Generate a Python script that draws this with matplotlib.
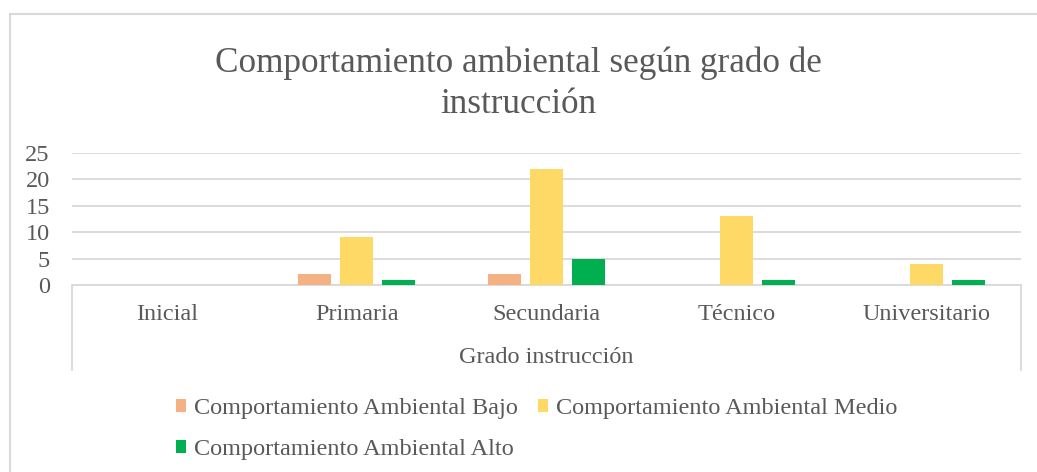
import matplotlib
matplotlib.use("Agg")
import matplotlib.pyplot as plt
import numpy as np

plt.rcParams["font.family"] = ["Liberation Serif", "DejaVu Serif"]

categories = ["Inicial", "Primaria", "Secundaria", "Técnico", "Universitario"]
bajo = [0, 2, 2, 0, 0]
medio = [0, 9, 22, 13, 4]
alto = [0, 1, 5, 1, 1]
series_names = ["Comportamiento Ambiental Bajo",
                "Comportamiento Ambiental Medio",
                "Comportamiento Ambiental Alto"]
colors = ["#F4B183", "#FFD966", "#00B050"]
yticks = [0, 5, 10, 15, 20, 25]

TEXT = "#595959"
GRID = "#D9D9D9"
FS = 17.5

fig = plt.figure(figsize=(10.37, 4.72), dpi=100)
ax = fig.add_axes([72 / 1037, 187 / 472, 949 / 1037, 132 / 472])

x = np.arange(len(categories))
step, width = 0.222, 0.174
bars = []
for i, (vals, name, col) in enumerate(zip([bajo, medio, alto], series_names, colors)):
    b = ax.bar(x + (i - 1) * step, vals, width, color=col, label=name, zorder=3)
    bars.append(b)

ax.set_xlim(-0.5, len(categories) - 0.5)
ax.set_ylim(0, 25)
ax.set_yticks(yticks)
ax.set_xticks(x)
ax.set_xticklabels(categories)
ax.grid(axis="y", color=GRID, linewidth=1.3, zorder=0)
ax.tick_params(axis="both", length=0, labelsize=FS, labelcolor=TEXT)
ax.tick_params(axis="y", pad=16)
ax.tick_params(axis="x", pad=13.5)
for s in ["top", "right", "left"]:
    ax.spines[s].set_visible(False)
ax.spines["bottom"].set_color(GRID)
ax.spines["bottom"].set_linewidth(1.3)

# category axis box sides
h = 85 / 132
for xa in (0, 1):
    ax.plot([xa, xa], [0, -h], transform=ax.transAxes, color=GRID,
            linewidth=1.3, clip_on=False)

ax.text(0.5, -0.55, "Grado instrucción", transform=ax.transAxes,
        ha="center", va="center", fontsize=FS, color=TEXT)

fig.text(0.5, 1 - 84 / 472, "Comportamiento ambiental según grado de\ninstrucción",
         ha="center", va="center", fontsize=25.3, color=TEXT, linespacing=1.3)

# outer chart border
fig.add_artist(plt.Line2D([10 / 1037, 10 / 1037], [0, 1 - 14 / 472],
                          color=GRID, linewidth=1.5))
fig.add_artist(plt.Line2D([10 / 1037, 1], [1 - 14 / 472, 1 - 14 / 472],
                          color=GRID, linewidth=1.5))

handles = [bars[0], bars[2], bars[1]]
labels = [series_names[0], series_names[2], series_names[1]]
leg = fig.legend(handles, labels, ncol=2, loc="upper left",
                 bbox_to_anchor=(176 / 1037, 1 - 398 / 472), frameon=False,
                 fontsize=FS, handlelength=0.42, handleheight=0.42,
                 handletextpad=0.3, columnspacing=0.85, labelspacing=0.82,
                 borderaxespad=0, borderpad=0)
for t in leg.get_texts():
    t.set_color(TEXT)

fig.savefig("out.png", dpi=100)
